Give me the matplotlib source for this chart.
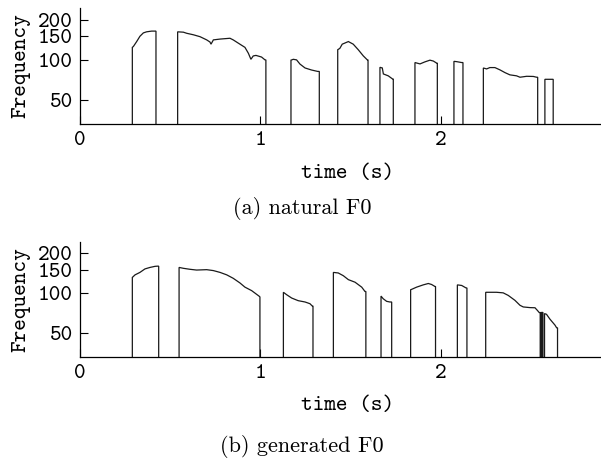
import matplotlib
matplotlib.use("Agg")
import matplotlib.pyplot as plt
from matplotlib.ticker import FixedLocator, FixedFormatter, NullLocator

# ---------------- data (voiced segments: times in s, F0 in Hz) ----------------
natural_t = [
    [0.290, 0.296, 0.314, 0.332, 0.351, 0.369, 0.397, 0.421],
    [0.541, 0.573, 0.591, 0.628, 0.665, 0.702, 0.720, 0.726, 0.739, 0.776, 0.831,
     0.849, 0.886, 0.914, 0.933, 0.947, 0.960, 0.975, 1.006, 1.025, 1.030],
    [1.169, 1.182, 1.200, 1.219, 1.247, 1.283, 1.317, 1.326],
    [1.428, 1.440, 1.453, 1.487, 1.514, 1.542, 1.570, 1.592, 1.596],
    [1.662, 1.675, 1.681, 1.708, 1.732, 1.736],
    [1.856, 1.884, 1.911, 1.939, 1.958, 1.976, 1.980],
    [2.072, 2.087, 2.115, 2.122],
    [2.235, 2.253, 2.271, 2.299, 2.327, 2.355, 2.382, 2.419, 2.438, 2.475, 2.512,
     2.530, 2.536],
    [2.576, 2.622],
]
natural_f = [
    [124, 126, 137, 150, 159, 162, 164, 164],
    [162, 161, 158, 154, 149, 141, 136, 131, 141, 143, 145,
     141, 131, 124, 112, 101, 107, 108, 105, 100, 100],
    [99.5, 101, 100, 93, 87, 84, 82, 82],
    [119, 122, 131, 137, 131, 119, 107, 100, 100],
    [88, 87, 78.5, 76, 72, 72],
    [95.5, 93.3, 96.6, 99.5, 98, 94.6, 94.6],
    [97.5, 97, 95.5, 95.5],
    [87, 85.6, 87.6, 87.6, 84.2, 80.3, 77.3, 76, 74.2, 75.4, 75.2,
     74.2, 74.2],
    [71.6, 71.6],
]

generated_t = [
    [0.290, 0.305, 0.332, 0.360, 0.388, 0.416, 0.430, 0.436],
    [0.549, 0.573, 0.609, 0.646, 0.702, 0.739, 0.776, 0.813, 0.849, 0.886, 0.914,
     0.951, 0.994, 0.997],
    [1.127, 1.145, 1.173, 1.209, 1.247, 1.274, 1.287, 1.291],
    [1.404, 1.431, 1.459, 1.487, 1.524, 1.561, 1.579, 1.584],
    [1.668, 1.680, 1.699, 1.717, 1.727],
    [1.832, 1.865, 1.902, 1.930, 1.948, 1.967, 1.970],
    [2.091, 2.115, 2.139, 2.144],
    [2.248, 2.271, 2.308, 2.345, 2.373, 2.410, 2.438, 2.456, 2.493, 2.521, 2.534,
     2.545, 2.550],
    [2.554, 2.557],
    [2.562, 2.565],
    [2.574, 2.585, 2.604, 2.632, 2.641, 2.646],
]
generated_f = [
    [132, 138, 144, 153, 157, 160, 160.5, 160.5],
    [157, 154.6, 152, 150, 151, 148.6, 144, 138, 130, 120, 111.5,
     105, 95, 94],
    [102, 97.8, 92.3, 88.2, 86.2, 83.7, 80.4, 80.4],
    [144, 142.6, 136, 127, 121.5, 111.5, 103.5, 103.5],
    [95.5, 91.2, 87.2, 86.2, 86.2],
    [106.5, 111.5, 116, 118.8, 116.8, 112.8, 112.8],
    [116, 114.8, 110, 110],
    [102, 102, 102, 101, 96.6, 88.7, 81.4, 79.1, 78.2, 78, 74.6,
     71.7, 71.7],
    [72, 72],
    [72, 72],
    [70.5, 69.6, 64, 57.7, 55.1, 55.1],
]

total_duration = 2.97
unvoiced_value = 0.0
y_ticks = [50, 100, 150, 200]
y_tick_labels = ["50", "100", "150", "200"]
x_ticks = [0, 1, 2]
x_tick_labels = ["0", "1", "2"]
captions = ["(a) natural F0", "(b) generated F0"]


def build_track(seg_t, seg_f, t_end):
    t, f = [0.0], [unvoiced_value]
    for ts, fs in zip(seg_t, seg_f):
        t += [ts[0]] + list(ts) + [ts[-1]]
        f += [unvoiced_value] + list(fs) + [unvoiced_value]
    t.append(t_end)
    f.append(unvoiced_value)
    return t, f


W, H = 601, 466
fig = plt.figure(figsize=(W / 100, H / 100), dpi=100)

mono = "cmtt10"
serif = "cmr10"
fs_tick = 16

panels = [
    (natural_t, natural_f, 8, 124, 208),
    (generated_t, generated_f, 242, 357, 447),
]

for (seg_t, seg_f, top_px, bot_px, cap_px), cap in zip(panels, captions):
    left_px, right_px = 80, 616
    ax = fig.add_axes([left_px / W, 1 - bot_px / H,
                       (right_px - left_px) / W, (bot_px - top_px) / H])
    t, f = build_track(seg_t, seg_f, total_duration)
    ax.plot(t, f, color="#1a1a1a", lw=0.9, solid_joinstyle="miter")
    ax.set_yscale("log", nonpositive="clip")
    ax.set_ylim(33.2, 244)
    ax.set_xlim(0, total_duration)
    ax.yaxis.set_major_locator(FixedLocator(y_ticks))
    ax.yaxis.set_major_formatter(FixedFormatter(y_tick_labels))
    ax.yaxis.set_minor_locator(NullLocator())
    ax.set_xticks(x_ticks)
    ax.set_xticklabels(x_tick_labels)
    for s in ("top", "right"):
        ax.spines[s].set_visible(False)
    for s in ("left", "bottom"):
        ax.spines[s].set_linewidth(0.9)
        ax.spines[s].set_color("black")
    ax.tick_params(axis="both", direction="in", length=5.8, width=0.8,
                   labelsize=fs_tick)
    ax.tick_params(axis="x", pad=5)
    ax.tick_params(axis="y", pad=5)
    for lab in ax.get_xticklabels() + ax.get_yticklabels():
        lab.set_fontfamily(mono)
    ax.text(-0.111, 0.5, "Frequency", rotation=90, ha="center", va="center",
            transform=ax.transAxes, fontsize=fs_tick, fontfamily=mono)
    xlabel_y = -49 / (bot_px - top_px)
    ax.text(0.5, xlabel_y, "time (s)", ha="center", va="center",
            transform=ax.transAxes, fontsize=fs_tick, fontfamily=mono)
    fig.text(302 / W, 1 - cap_px / H, cap, ha="center", va="center",
             fontsize=16, fontfamily=serif)

fig.savefig("out.png", dpi=100)
